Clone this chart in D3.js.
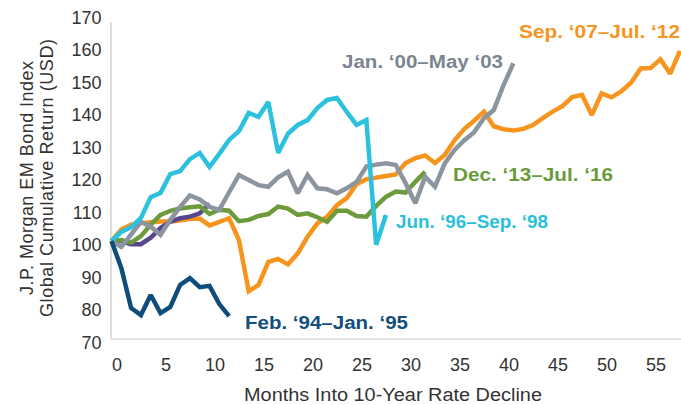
<!DOCTYPE html>
<meta charset="utf-8">
<head>
<style>
  body { margin: 0; background: #fff; }
  text { font-family: "Liberation Sans", Arial, sans-serif; }
</style>
</head>
<body>
    <div id="my_dataviz"></div>
    <script src="https://d3js.org/d3.v7.min.js"></script>

<script>
    // series values, one per month
    const feb94 = [100, 91.7, 79.4, 77.2, 83.4, 77.8, 79.7, 86.5, 88.6, 85.8, 86.2, 80.6, 76.9];
    const jun96 = [100, 102.8, 104.3, 107.1, 113.5, 114.8, 120.6, 121.5, 125.2, 127.1, 122.8, 126.8, 131.1,
                   133.8, 139.4, 138.2, 142.8, 127.1, 133, 135.7, 137.2, 140.9, 143.4, 144, 139.7, 135.7,
                   137.2, 98.8, 108];
    const jan00 = [100, 98.2, 102, 105.9, 104.4, 101.9, 106.5, 110.5, 114, 112.8, 110.5, 109.6, 115,
                   120.3, 118.8, 117.2, 116.7, 119.6, 121.3, 114.7, 120.3, 116.2, 115.9, 114.7, 116.2,
                   118.2, 122.9, 123.5, 123.9, 123.4, 117.8, 111.6, 119.8, 116.7, 123.9, 128, 131, 133.5,
                   137.8, 140.3, 148, 154.7];
    const sep07 = [100, 103.5, 105, 105.5, 105.8, 106, 106, 106.3, 106.8, 106.9, 104.8, 105.9, 107,
                   100.3, 84.5, 86.5, 93.6, 94.5, 92.8, 96.2, 101.3, 105.4, 107.5, 111, 113.2, 117.5,
                   119, 119.5, 120, 120.5, 124, 125.5, 126.3, 124, 126.5, 131, 134.5, 137, 139.8, 135.3,
                   134.4, 134, 134.5, 135.7, 137.8, 139.8, 141.5, 144.3, 145, 138.8, 145.4, 144.2, 146,
                   148.7, 153.1, 153.2, 155.9, 151.5, 158.5];
    const dec13 = [100, 100.3, 99.5, 101.5, 105, 108, 109.3, 110, 110.4, 110.7, 108.3, 109.6, 109.3,
                   106.1, 106.5, 107.7, 108.3, 110.6, 110, 108, 108.5, 107.3, 105.9, 109.3, 109.3, 107.7,
                   107.5, 110.8, 113.6, 115.2, 114.9, 118.2, 121.3];
    const other = [100, 100, 99, 99, 101, 104, 106, 107, 107.5, 108.5, 111.5];

    const seriesNames = ["Sep. ‘07–Jul. ‘12", "", "Dec. ‘13–Jul. ‘16", "Jan. ‘00–May ‘03", "Jun. ‘96–Sep. ‘98", "Feb. ‘94–Jan. ‘95"];
    const seriesData = [sep07, other, dec13, jan00, jun96, feb94];
    const lineColors = ["#f7941d", "#57478a", "#6b9b3a", "#8c959f", "#2cc1dc", "#0e4c7a"];
    const labelColors = ["#f7941d", "#57478a", "#6b9b3a", "#7b8590", "#2bbfd9", "#124e7e"];

    const xTicks = [0, 5, 10, 15, 20, 25, 30, 35, 40, 45, 50, 55];
    const yTicks = [70, 80, 90, 100, 110, 120, 130, 140, 150, 160, 170];

    // set the dimensions of the graph
    const W = 681, H = 405;
    const svg = d3.select("#my_dataviz")
      .append("svg")
        .attr("width", W)
        .attr("height", H);

    const x = d3.scaleLinear().domain([0, 58]).range([111.5, 680]);
    const y = d3.scaleLinear().domain([70, 170]).range([338.5, 13.5]);

    // axis frame (left + bottom, light gray)
    svg.append("line")
      .attr("x1", x(0) - 0.5).attr("x2", x(0) - 0.5)
      .attr("y1", y(167.4)).attr("y2", y(70) + 0.5)
      .attr("stroke", "#c9c9c9").attr("stroke-width", 1.2);
    svg.append("line")
      .attr("x1", x(0) - 0.5).attr("x2", W)
      .attr("y1", y(70) + 0.5).attr("y2", y(70) + 0.5)
      .attr("stroke", "#c9c9c9").attr("stroke-width", 1.2);

    // Y axis labels
    const yAxis = svg.append("g")
      .attr("transform", `translate(${x(0) - 10}, 0)`)
      .call(d3.axisLeft(y).tickValues(yTicks).tickSize(0).tickPadding(0));
    yAxis.select(".domain").remove();
    yAxis.selectAll("text")
      .attr("dy", "0.38em")
      .attr("y", 3)
      .style("font-family", "Liberation Sans, Arial, sans-serif")
      .style("font-size", "18px")
      .attr("fill", "#333");

    // X axis labels
    const xAxis = svg.append("g")
      .attr("transform", `translate(5, ${y(70)})`)
      .call(d3.axisBottom(x).tickValues(xTicks).tickSize(0).tickPadding(0));
    xAxis.select(".domain").remove();
    xAxis.selectAll("text")
      .attr("y", 26)
      .attr("dy", "0.35em")
      .style("font-family", "Liberation Sans, Arial, sans-serif")
      .style("font-size", "18px")
      .attr("fill", "#333");

    // axis titles
    svg.append("text")
      .attr("x", 393).attr("y", 401)
      .attr("text-anchor", "middle")
      .style("font-size", "17.5px")
      .attr("fill", "#333")
      .attr("textLength", 298)
      .attr("lengthAdjust", "spacingAndGlyphs")
      .text("Months Into 10-Year Rate Decline");

    const yTitle = svg.append("g")
      .attr("transform", "translate(0, 178) rotate(-90)");
    yTitle.append("text")
      .attr("x", 0).attr("y", 33)
      .attr("text-anchor", "middle")
      .style("font-size", "18px")
      .attr("fill", "#333")
      .attr("textLength", 234)
      .text("J.P. Morgan EM Bond Index");
    yTitle.append("text")
      .attr("x", 0).attr("y", 53)
      .attr("text-anchor", "middle")
      .style("font-size", "18px")
      .attr("fill", "#333")
      .attr("textLength", 278)
      .text("Global Cumulative Return (USD)");

    // lines
    const line = d3.line()
      .x(function (d, i) { return x(i); })
      .y(function (d) { return y(d); });

    svg.append("g")
      .selectAll("path")
      .data(seriesData)
      .join("path")
        .attr("d", function (d) { return line(d); })
        .attr("fill", "none")
        .attr("stroke", function (d, i) { return lineColors[i]; })
        .attr("stroke-width", 4.5)
        .attr("stroke-linejoin", "miter")
        .attr("stroke-miterlimit", 2);

    // series labels
    const labels = [
      {i: 0, x: 519, y: 38, w: 161},
      {i: 3, x: 342, y: 68, w: 161},
      {i: 2, x: 453, y: 181, w: 160},
      {i: 4, x: 396, y: 228, w: 152},
      {i: 5, x: 245, y: 329, w: 163}
    ];
    svg.append("g")
      .selectAll("text")
      .data(labels)
      .join("text")
        .attr("x", function (d) { return d.x; })
        .attr("y", function (d) { return d.y; })
        .attr("textLength", function (d) { return d.w; })
        .attr("lengthAdjust", "spacingAndGlyphs")
        .style("font-size", "18px")
        .style("font-weight", "bold")
        .attr("fill", function (d) { return labelColors[d.i]; })
        .text(function (d) { return seriesNames[d.i]; });
</script>
</body>
